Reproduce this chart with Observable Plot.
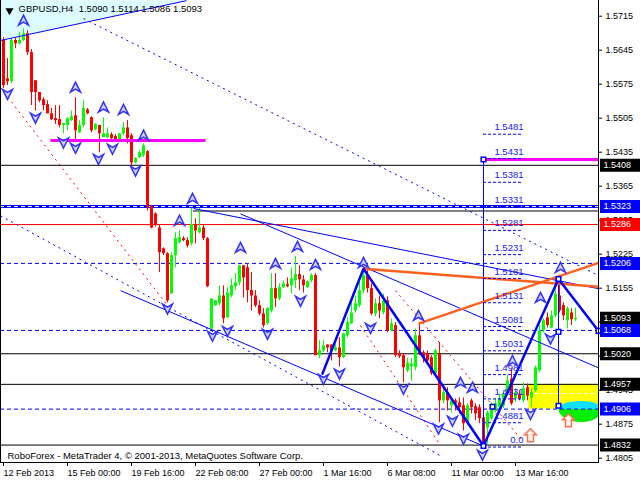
<!DOCTYPE html>
<html><head><meta charset="utf-8">
<script src="https://cdn.jsdelivr.net/npm/d3@7"></script>
<script src="https://cdn.jsdelivr.net/npm/@observablehq/plot@0.6"></script>
<style>body{margin:0;background:#fff}#chart svg{display:block}</style>
</head><body><div id="chart"></div>
<script>
// ---- candles (H4 bars, index 0 = 12 Feb 2013 08:00) ----
const opens = [1.5665,1.5586,1.5580,1.5665,1.5658,1.5665,1.5679,1.5640,1.5582,1.5558,
1.5543,1.5533,1.5514,1.5504,1.5502,1.5490,1.5490,1.5500,1.5510,1.5475,
1.5490,1.5522,1.5506,1.5481,1.5490,1.5465,1.5465,1.5471,1.5467,1.5461,
1.5473,1.5485,1.5469,1.5413,1.5424,1.5428,1.5436,1.5323,1.5308,1.5279,
1.5236,1.5226,1.5143,1.5222,1.5249,1.5257,1.5253,1.5246,1.5284,1.5269,
1.5279,1.5257,1.5071,1.5119,1.5123,1.5139,1.5094,1.5139,1.5158,1.5166,
1.5201,1.5197,1.5150,1.5139,1.5119,1.5102,1.5082,1.5108,1.5154,1.5133,
1.5156,1.5162,1.5160,1.5170,1.5183,1.5172,1.5156,1.5170,1.5181,1.5016,
1.5026,1.5038,1.5038,1.5026,1.5032,1.5012,1.5057,1.5082,1.5108,1.5119,
1.5150,1.5181,1.5154,1.5102,1.5123,1.5104,1.5129,1.5067,1.5078,1.5020,
1.5016,1.4985,1.4993,1.4991,1.5057,1.5022,1.5020,1.5012,1.4979,1.5020,
1.4923,1.4940,1.4913,1.4923,1.4919,1.4913,1.4876,1.4923,1.4911,1.4909,
1.4888,1.4867,1.4886,1.4902,1.4909,1.4913,1.4937,1.4968,1.4927,1.4937,
1.4923,1.4950,1.4929,1.4944,1.4985,1.5067,1.5094,1.5073,1.5098,1.5139,
1.5119,1.5088,1.5104,1.5090];
const highs = [1.5671,1.5628,1.5669,1.5669,1.5681,1.5689,1.5685,1.5646,1.5582,1.5558,
1.5547,1.5541,1.5525,1.5531,1.5531,1.5494,1.5506,1.5520,1.5547,1.5500,
1.5541,1.5525,1.5508,1.5494,1.5490,1.5506,1.5485,1.5475,1.5471,1.5473,
1.5496,1.5500,1.5473,1.5424,1.5438,1.5452,1.5438,1.5325,1.5310,1.5284,
1.5238,1.5228,1.5228,1.5269,1.5273,1.5261,1.5259,1.5319,1.5298,1.5319,
1.5284,1.5259,1.5133,1.5129,1.5160,1.5160,1.5156,1.5174,1.5185,1.5201,
1.5201,1.5205,1.5187,1.5150,1.5129,1.5113,1.5115,1.5185,1.5185,1.5164,
1.5170,1.5176,1.5197,1.5220,1.5201,1.5181,1.5170,1.5185,1.5185,1.5047,
1.5047,1.5038,1.5038,1.5040,1.5053,1.5061,1.5094,1.5135,1.5139,1.5166,
1.5195,1.5191,1.5164,1.5133,1.5139,1.5143,1.5137,1.5092,1.5084,1.5026,
1.5020,1.5010,1.5010,1.5071,1.5082,1.5026,1.5026,1.5016,1.5030,1.5043,
1.4950,1.4950,1.4929,1.4927,1.4929,1.4929,1.4917,1.4927,1.4917,1.4915,
1.4892,1.4902,1.4919,1.4927,1.4937,1.4944,1.4975,1.4989,1.4948,1.4944,
1.4960,1.4958,1.4948,1.4995,1.5078,1.5092,1.5104,1.5108,1.5174,1.5174,
1.5125,1.5117,1.5113,1.5114];
const lows = [1.5566,1.5572,1.5576,1.5648,1.5656,1.5663,1.5634,1.5531,1.5520,1.5537,
1.5520,1.5514,1.5500,1.5492,1.5485,1.5473,1.5479,1.5498,1.5461,1.5473,
1.5485,1.5512,1.5475,1.5479,1.5434,1.5465,1.5463,1.5459,1.5457,1.5459,
1.5469,1.5452,1.5407,1.5411,1.5422,1.5424,1.5314,1.5277,1.5281,1.5187,
1.5222,1.5125,1.5143,1.5197,1.5246,1.5251,1.5238,1.5242,1.5246,1.5267,
1.5253,1.5156,1.5067,1.5117,1.5119,1.5082,1.5092,1.5135,1.5150,1.5160,
1.5135,1.5125,1.5108,1.5115,1.5098,1.5073,1.5078,1.5104,1.5115,1.5129,
1.5154,1.5156,1.5143,1.5154,1.5150,1.5145,1.5154,1.5166,1.5016,1.5010,
1.5022,1.5022,1.5005,1.5024,1.4993,1.5010,1.5053,1.5080,1.5104,1.5115,
1.5143,1.5145,1.5098,1.5096,1.5092,1.5100,1.5063,1.5065,1.5012,1.5010,
1.4960,1.4981,1.4964,1.4985,1.5016,1.5001,1.5001,1.4975,1.4975,1.4878,
1.4917,1.4902,1.4898,1.4902,1.4896,1.4861,1.4872,1.4896,1.4882,1.4876,
1.4832,1.4834,1.4882,1.4898,1.4905,1.4907,1.4933,1.4913,1.4919,1.4923,
1.4919,1.4923,1.4909,1.4940,1.4981,1.5063,1.5073,1.5071,1.5094,1.5104,
1.5088,1.5071,1.5078,1.5086];
const closes = [1.5572,1.5580,1.5665,1.5658,1.5665,1.5679,1.5640,1.5558,1.5558,1.5541,
1.5531,1.5514,1.5502,1.5500,1.5490,1.5494,1.5504,1.5508,1.5479,1.5490,
1.5525,1.5514,1.5479,1.5492,1.5473,1.5473,1.5473,1.5463,1.5461,1.5473,
1.5485,1.5463,1.5413,1.5422,1.5434,1.5448,1.5321,1.5279,1.5284,1.5228,
1.5226,1.5129,1.5222,1.5257,1.5259,1.5253,1.5242,1.5286,1.5273,1.5279,
1.5257,1.5158,1.5133,1.5129,1.5139,1.5092,1.5145,1.5160,1.5166,1.5201,
1.5176,1.5150,1.5139,1.5119,1.5102,1.5078,1.5113,1.5154,1.5133,1.5156,
1.5164,1.5158,1.5174,1.5183,1.5172,1.5160,1.5168,1.5181,1.5016,1.5026,
1.5036,1.5032,1.5026,1.5032,1.5012,1.5061,1.5084,1.5104,1.5123,1.5150,
1.5181,1.5154,1.5102,1.5123,1.5108,1.5129,1.5067,1.5082,1.5016,1.5014,
1.4991,1.5001,1.4999,1.5057,1.5020,1.5010,1.5005,1.4979,1.5026,1.4923,
1.4940,1.4923,1.4923,1.4917,1.4909,1.4876,1.4913,1.4909,1.4896,1.4886,
1.4834,1.4898,1.4913,1.4917,1.4927,1.4937,1.4964,1.4917,1.4940,1.4927,
1.4948,1.4933,1.4940,1.4991,1.5067,1.5088,1.5078,1.5098,1.5143,1.5108,
1.5098,1.5113,1.5090,1.5093];

// ---- axes ----
const dateTickIdx = [0,16,32,48,64,80,96,112,128];
const dateTickLabels = ["12 Feb 2013","15 Feb 00:00","19 Feb 16:00","22 Feb 08:00","27 Feb 00:00","1 Mar 16:00","6 Mar 08:00","11 Mar 00:00","13 Mar 16:00"];
const priceTicks = [1.4805,1.4875,1.4945,1.5015,1.5085,1.5155,1.5225,1.5295,1.5365,1.5435,1.5505,1.5575,1.5645,1.5715];
const hiddenTickLabels = [1.5015,1.5085]; // fully covered by price tags in the original
const tagPrices = [1.5408,1.5323,1.5286,1.5206,1.5093,1.5068,1.5020,1.4957,1.4906,1.4832];
const tagColors = ["black","#0000ff","#ff0000","#0000ff","black","#0000ff","black","black","#0000ff","black"];

// ---- objects ----
const blackLevels = [1.5408,1.5020,1.4957,1.4832];
const redLevels = [1.5286];
const blueDashLevels = [1.5206,1.5068,1.4906];
const blueDoubleLevels = [1.5323];
const blackSegStart = [47.5], blackSegPrice = [1.5318];
const magentaSegs = [{x1:11.75,x2:50.5,y:1.5459},{x1:120,x2:148.75,y:1.5420}];
const thinBlueLines = [
  {x1:-0.75,y1:1.5665,x2:45.75,y2:1.5747},
  {x1:47.5,y1:1.5319,x2:148.75,y2:1.5154},
  {x1:59.25,y1:1.5308,x2:148.75,y2:1.4991},
  {x1:29.25,y1:1.5150,x2:120,y2:1.4830},
  {x1:138.75,y1:1.5174,x2:138.75,y2:1.4913},
  {x1:120,y1:1.5420,x2:120,y2:1.4832}];
const dottedBlueLines = [
  {x1:20,y1:1.5710,x2:148.75,y2:1.5181},
  {x1:-0.75,y1:1.5304,x2:109.25,y2:1.4810}];
const dottedRedLines = [
  {x1:-0.75,y1:1.5568,x2:41,y2:1.5119},
  {x1:98,y1:1.5150,x2:129.75,y2:1.4841},
  {x1:89.25,y1:1.5078,x2:109.25,y2:1.4831}];
const zigzagIdx = [79.75,90,120,138.75,148.75];
const zigzagPrice = [1.4979,1.5195,1.4830,1.5174,1.5067];
const orangeLines = [{x1:103.75,y1:1.5082,x2:148.75,y2:1.5207},{x1:90,y1:1.5195,x2:148.75,y2:1.5158}];
const squaresIdx = [120,138.75,138.75,138.75,148.75,120,122.25];
const squaresPrice = [1.5420,1.5174,1.5065,1.4913,1.5067,1.4830,1.4911];
const fibLevels = [1.5472,1.5422,1.5373,1.5323,1.5274,1.5224,1.5175,1.5125,1.5076,1.5026,1.4977,1.4927,1.4878,1.4828];
const fibLabels = ["1.5481","1.5431","1.5381","1.5331","1.5281","1.5231","1.5181","1.5131","1.5081","1.5031","1.4981","1.4931","1.4881","0.0"];
const fibStart = 120, fibEnd = 130;
const zone = {x1:131.25,x2:148.75,y1:1.4906,y2:1.4957,mid:1.4938};
const lensCenter = {i:144.25,p:1.4906};
const cyanTop = {x1:-0.75,x2:45.75,y1:1.5665,y2:1.5747};
const fractalUpIdx = [5,18,25,30,35,47.25,44,59.25,68,73.5,78,90,103.75,114.25,117.25,127.25,134.25,139.25];
const fractalUpPrice = [1.5706,1.5568,1.5527,1.5522,1.5469,1.5339,1.5294,1.5238,1.5205,1.5240,1.5203,1.5207,1.5098,1.4960,1.4950,1.5005,1.5135,1.5197];
const fractalDownIdx = [1,8,15,18,23.75,27.25,33,41,52.25,56,66,74.25,80,84,91.75,100,108.75,112.25,115,119.75,131.75,136.75];
const fractalDownPrice = [1.5555,1.5506,1.5455,1.5444,1.5421,1.5442,1.5397,1.5113,1.5057,1.5067,1.5061,1.5129,1.4968,1.4979,1.5073,1.4948,1.4866,1.4882,1.4845,1.4812,1.4896,1.5051];
const hollowArrowIdx = [131.75,141.25];
const hollowArrowPrice = [1.4851,1.4882];
const symbolName = "GBPUSD,H4";
const footer = "RoboForex - MetaTrader 4, © 2001-2013, MetaQuotes Software Corp.";

// ---- build ----
const candles = opens.map((o,i)=>({i,o,h:highs[i],l:lows[i],c:closes[i]}));
const bulls = candles.filter(d=>d.c>=d.o), bears = candles.filter(d=>d.c<d.o);
const last = candles[candles.length-1];
const title = `${symbolName}  ${last.o.toFixed(4)} ${last.h.toFixed(4)} ${last.l.toFixed(4)} ${last.c.toFixed(4)}`;
const zig = zigzagIdx.map((i,k)=>({i,p:zigzagPrice[k]}));
const ups = fractalUpIdx.map((i,k)=>({i,p:fractalUpPrice[k]}));
const downs = fractalDownIdx.map((i,k)=>({i,p:fractalDownPrice[k]}));
const squares = squaresIdx.map((i,k)=>({i,p:squaresPrice[k]}));
const hollows = hollowArrowIdx.map((i,k)=>({i,p:hollowArrowPrice[k]}));
const tags = tagPrices.map((p,k)=>({p,bg:tagColors[k]}));
const fib = fibLevels.map((p,k)=>({p,t:fibLabels[k]}));

const chevUp = {draw(c){c.moveTo(0,-5.5);c.lineTo(5,4.5);c.lineTo(0,1.5);c.lineTo(-5,4.5);c.closePath();}};
const chevDown = {draw(c){c.moveTo(0,5.5);c.lineTo(5,-4.5);c.lineTo(0,-1.5);c.lineTo(-5,-4.5);c.closePath();}};
const hollowUp = {draw(c){c.moveTo(0,-7);c.lineTo(6,-1);c.lineTo(3,-1);c.lineTo(3,6);c.lineTo(-3,6);c.lineTo(-3,-1);c.lineTo(-6,-1);c.closePath();}};
const tagBox = {draw(c){c.rect(1.5,-6.5,40,13);}};
const K = 0.5523;
const halfUp = {draw(c){const rx=22,ry=8;c.moveTo(-rx,0);c.bezierCurveTo(-rx,-ry*K,-rx*K,-ry,0,-ry);c.bezierCurveTo(rx*K,-ry,rx,-ry*K,rx,0);c.closePath();}};
const halfDown = {draw(c){const rx=22,ry=13;c.moveTo(-rx,0);c.bezierCurveTo(-rx,ry*K,-rx*K,ry,0,ry);c.bezierCurveTo(rx*K,ry,rx,ry*K,rx,0);c.closePath();}};

const BLUE = "#0000ff";
const chart = Plot.plot({
  width:640, height:480, marginLeft:0, marginRight:42, marginTop:0, marginBottom:18,
  style:{fontFamily:"'Liberation Sans', Arial, sans-serif", fontSize:"9px", background:"#fff", color:"#000"},
  x:{domain:[-0.75,148.75]},
  y:{domain:[1.47961,1.57473]},
  color:{type:"identity"},
  marks:[
    Plot.areaY([{x:cyanTop.x1,a:cyanTop.y1,b:cyanTop.y2},{x:cyanTop.x2,a:cyanTop.y2,b:cyanTop.y2}], {x:"x", y1:"a", y2:"b", fill:"#dcfcff"}),
    Plot.rect([zone], {x1:"x1", x2:"x2", y1:"y1", y2:"y2", fill:"#ffff00"}),
    Plot.ruleY([zone.mid], {x1:zone.x1, x2:zone.x2, stroke:"white", strokeDasharray:"4,3"}),
    Plot.dot([lensCenter], {x:"i", y:"p", symbol:halfUp, r:5, fill:"#10e0ff", stroke:null, clip:true}),
    Plot.dot([lensCenter], {x:"i", y:"p", symbol:halfDown, r:5, fill:"#00f000", stroke:null, clip:true}),
    // horizontal levels
    Plot.ruleY(blackLevels, {stroke:"black"}),
    Plot.ruleY(redLevels, {stroke:"#ff0000"}),
    Plot.ruleY(blueDashLevels, {stroke:BLUE, strokeDasharray:"4,3"}),
    Plot.ruleY(blueDoubleLevels, {stroke:BLUE, strokeWidth:3}),
    Plot.ruleY(blueDoubleLevels, {stroke:"white", strokeDasharray:"4,3"}),
    Plot.ruleY(blackSegPrice, {x1:blackSegStart[0], x2:148.75, stroke:"black", dy:2}),
    // candles
    Plot.ruleX(bulls, {x:"i", y1:"l", y2:"h", stroke:"#00ff00"}),
    Plot.ruleX(bears, {x:"i", y1:"l", y2:"h", stroke:"#ff0000"}),
    Plot.ruleX(bulls, {x:"i", y1:"o", y2:"c", stroke:"#00ff00", strokeWidth:3, strokeLinecap:"butt"}),
    Plot.ruleX(bears, {x:"i", y1:"o", y2:"c", stroke:"#ff0000", strokeWidth:3, strokeLinecap:"butt"}),
    // objects
    Plot.link(magentaSegs, {x1:"x1", x2:"x2", y1:"y", y2:"y", stroke:"#ff00ff", strokeWidth:3}),
    Plot.link(thinBlueLines, {x1:"x1", y1:"y1", x2:"x2", y2:"y2", stroke:BLUE, strokeWidth:1}),
    Plot.link(dottedBlueLines, {x1:"x1", y1:"y1", x2:"x2", y2:"y2", stroke:BLUE, strokeDasharray:"2,4"}),
    Plot.link(dottedRedLines, {x1:"x1", y1:"y1", x2:"x2", y2:"y2", stroke:"#ff0000", strokeDasharray:"2,4"}),
    Plot.link(orangeLines, {x1:"x1", y1:"y1", x2:"x2", y2:"y2", stroke:"#ff6020", strokeWidth:2.5}),
    Plot.line(zig, {x:"i", y:"p", stroke:BLUE, strokeWidth:2.5}),
    Plot.ruleY(fib, {y:"p", x1:fibStart, x2:fibEnd, stroke:BLUE, strokeDasharray:"3,2"}),
    Plot.text(fib, {x:fibEnd, y:"p", text:"t", textAnchor:"end", dy:-7, fill:"#2020ee", fontSize:9.5}),
    Plot.dot(squares, {x:"i", y:"p", symbol:"square", r:2.6, fill:"white", stroke:BLUE}),
    Plot.dot(ups, {x:"i", y:"p", symbol:chevUp, r:5, fill:"#d0d4ff", stroke:"#3030ff"}),
    Plot.dot(downs, {x:"i", y:"p", symbol:chevDown, r:5, fill:"#d0d4ff", stroke:"#3030ff"}),
    Plot.dot(hollows, {x:"i", y:"p", symbol:hollowUp, r:5, fill:"#fff4ec", stroke:"#ff7050"}),
    // texts
    Plot.dot([0], {frameAnchor:"top-left", dx:9, dy:10, symbol:"triangle", rotate:180, r:3, fill:"black", stroke:null}),
    Plot.text([title], {frameAnchor:"top-left", dx:18, dy:5, textAnchor:"start", lineAnchor:"top", fontSize:9.5, fill:"black"}),
    Plot.text([footer], {frameAnchor:"bottom-left", dx:7, dy:-4, textAnchor:"start", lineAnchor:"bottom", fontSize:9.5, fill:"black"}),
    // axes
    Plot.axisY({anchor:"right", ticks:priceTicks, tickFormat:d=>hiddenTickLabels.includes(d) ? "" : d.toFixed(4), tickSize:3, tickPadding:4, fontSize:9}),
    Plot.axisX({anchor:"bottom", ticks:dateTickIdx, tickFormat:d=>dateTickLabels[dateTickIdx.indexOf(d)], textAnchor:"start", tickSize:4, tickPadding:3, fontSize:9}),
    Plot.dot(tags, {y:"p", frameAnchor:"right", symbol:tagBox, r:5, fill:"bg", stroke:null}),
    Plot.text(tags, {y:"p", text:d=>d.p.toFixed(4), frameAnchor:"right", textAnchor:"start", dx:5, fill:"white", fontSize:9}),
    Plot.frame({anchor:"left"}),
    Plot.frame({anchor:"right"}),
    Plot.frame({anchor:"bottom"})
  ]
});
document.getElementById("chart").append(chart);
</script>
</body></html>
